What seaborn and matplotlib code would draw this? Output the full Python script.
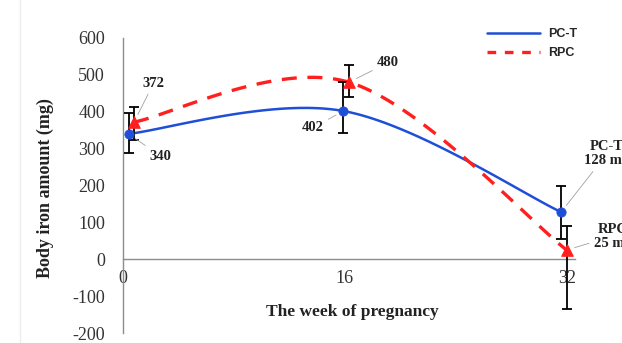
import numpy as np
import pandas as pd
import matplotlib
matplotlib.use("Agg")
import matplotlib.pyplot as plt
from matplotlib.lines import Line2D
import seaborn as sns

# Week of pregnancy (each series is slightly offset so the error bars don't overlap)
weeks_pct = [0.4, 15.9, 31.6]
weeks_rpc = [0.8, 16.3, 32.0]
tick_weeks = [0, 16, 32]

# Body iron amount (mg)
iron_pct = [340, 402, 128]
iron_rpc = [372, 480, 25]

# Error bars (lower, upper)
err_pct_low = [52, 60, 73]
err_pct_high = [57, 78, 71]
err_rpc_low = [49, 39, 159]
err_rpc_high = [41, 47, 65]

labels_pct = ["340", "402", "PC-T\n128 mg"]
labels_rpc = ["372", "480", "RPC\n25 mg"]

BLUE = "#1f4fd6"
RED = "#ff1f1f"


def smooth(xs, ys, n=60):
    """Bezier smoothing of a polyline (tension 1/6, as in spreadsheet smoothed lines)."""
    p = np.column_stack([xs, ys]).astype(float)
    ext = np.vstack([p[0], p, p[-1]])
    out = []
    t = np.linspace(0, 1, n)[:, None]
    for i in range(len(p) - 1):
        p0, p3 = p[i], p[i + 1]
        c1 = p0 + (ext[i + 2] - ext[i]) / 6.0
        c2 = p3 - (ext[i + 3] - ext[i + 1]) / 6.0
        seg = ((1 - t) ** 3) * p0 + 3 * ((1 - t) ** 2) * t * c1 + 3 * (1 - t) * t ** 2 * c2 + t ** 3 * p3
        out.append(seg if i == 0 else seg[1:])
    out = np.vstack(out)
    return out[:, 0], out[:, 1]


sx1, sy1 = smooth(weeks_pct, iron_pct)
sx2, sy2 = smooth(weeks_rpc, iron_rpc)
curves = pd.DataFrame({
    "week": np.concatenate([sx1, sx2]),
    "iron": np.concatenate([sy1, sy2]),
    "group": ["PC-T"] * len(sx1) + ["RPC"] * len(sx2),
})
points = pd.DataFrame({
    "week": weeks_pct + weeks_rpc,
    "iron": iron_pct + iron_rpc,
    "group": ["PC-T"] * 3 + ["RPC"] * 3,
})

sns.set_theme(style="white")
plt.rcParams["font.family"] = ["Liberation Serif", "DejaVu Serif"]
plt.rcParams["axes.unicode_minus"] = False

fig = plt.figure(figsize=(6.22, 3.43), dpi=100)
ax = fig.add_axes([123 / 622, 1 - 333 / 343, (575 - 123) / 622, (333 - 38) / 343])

# smoothed curves
sns.lineplot(data=curves[curves.group == "PC-T"], x="week", y="iron", sort=False,
             color=BLUE, lw=1.8, ax=ax, estimator=None, legend=False, zorder=2)
sns.lineplot(data=curves[curves.group == "RPC"], x="week", y="iron", sort=False,
             color=RED, lw=2.4, ax=ax, estimator=None, legend=False, zorder=2)
for ln in ax.lines[1:]:
    ln.set_dashes([4.5, 3.2])

# error bars
ax.errorbar(weeks_pct, iron_pct, yerr=[err_pct_low, err_pct_high], fmt="none",
            ecolor="black", elinewidth=1.3, capsize=3.5, capthick=1.3, zorder=3)
ax.errorbar(weeks_rpc, iron_rpc, yerr=[err_rpc_low, err_rpc_high], fmt="none",
            ecolor="black", elinewidth=1.3, capsize=3.5, capthick=1.3, zorder=3)

# markers
sns.scatterplot(data=points[points.group == "PC-T"], x="week", y="iron", marker="o",
                s=45, color=BLUE, edgecolor=BLUE, ax=ax, zorder=4, legend=False)
sns.scatterplot(data=points[points.group == "RPC"], x="week", y="iron", marker="^",
                s=70, color=RED, edgecolor=RED, ax=ax, zorder=4, legend=False)

# value labels with leader lines
offsets_pct = [(23, -16), (-22, -12), (33, 42)]
offsets_rpc = [(14, 28), (28, 14), (33, 10)]
lead = dict(arrowstyle="-", color="#a0a0a0", lw=0.6, shrinkA=1, shrinkB=6)
for x, y, lab, off in zip(weeks_pct, iron_pct, labels_pct, offsets_pct):
    ax.annotate(lab, (x, y), xytext=off, textcoords="offset points", ha="center",
                va="center", fontsize=10.5, fontweight="bold", color="#222222",
                arrowprops=lead, annotation_clip=False, linespacing=1.1)
for x, y, lab, off in zip(weeks_rpc, iron_rpc, labels_rpc, offsets_rpc):
    ax.annotate(lab, (x, y), xytext=off, textcoords="offset points", ha="center",
                va="center", fontsize=10.5, fontweight="bold", color="#222222",
                arrowprops=lead, annotation_clip=False, linespacing=1.1)

# axes styling
ax.set_xlim(0, 32.6)
ax.set_ylim(-200, 600)
ax.set_yticks(np.arange(-200, 601, 100))
ax.set_xticks(tick_weeks)
ax.set_xticklabels([str(w) for w in tick_weeks])
for s in ["top", "right"]:
    ax.spines[s].set_visible(False)
ax.spines["bottom"].set_position(("data", 0))
for s in ["left", "bottom"]:
    ax.spines[s].set_color("#8c8c8c")
    ax.spines[s].set_linewidth(1.0)
ax.tick_params(axis="both", length=0, labelsize=13, colors="#333333")
ax.tick_params(axis="x", pad=8)
ax.tick_params(axis="y", pad=13)
ax.set_xlabel("")
ax.set_ylabel("")
fig.text(352 / 622, 1 - 312 / 343, "The week of pregnancy", ha="center", va="center",
         fontsize=12.5, fontweight="bold", color="#222222")
fig.text(45 / 622, 1 - 188 / 343, "Body iron amount (mg)", ha="center", va="center",
         rotation=90, fontsize=13, fontweight="bold", color="#222222")

# legend
handles = [Line2D([], [], color=BLUE, lw=1.8),
           Line2D([], [], color=RED, lw=2.4, dashes=[2.6, 2.6])]
fig.legend(handles, ["PC-T", "RPC"], loc="upper left",
           bbox_to_anchor=(481 / 622, 1 - 22 / 343), frameon=False,
           handlelength=4.2, handletextpad=0.7, labelspacing=0.55, borderpad=0,
           prop={"family": "Liberation Sans", "weight": "bold", "size": 9})

# faint chart-area border
fig.add_artist(Line2D([20 / 622, 20 / 622], [0, 1], transform=fig.transFigure,
                      color="#ececec", lw=1))

fig.savefig("out.png", dpi=100)
